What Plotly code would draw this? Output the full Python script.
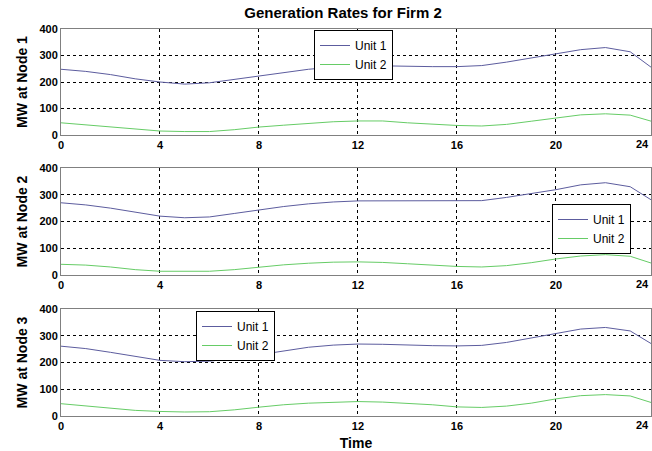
import plotly.graph_objects as go

hours = list(range(25))

node1_unit1 = [248, 240, 228, 212, 200, 192, 197, 210, 224, 237, 248, 256, 261,
               261, 259, 258, 258, 262, 275, 290, 305, 322, 330, 314, 245]
node1_unit2 = [46, 38, 30, 22, 15, 13, 13, 20, 30, 37, 44, 50, 53,
               53, 46, 40, 36, 34, 40, 52, 65, 76, 80, 75, 48]

node2_unit1 = [270, 262, 250, 235, 220, 214, 217, 230, 244, 256, 266, 273, 277,
               277, 276, 276, 276, 278, 290, 305, 319, 337, 345, 330, 272]
node2_unit2 = [40, 37, 30, 20, 14, 13, 14, 20, 30, 38, 44, 48, 49,
               47, 42, 36, 32, 30, 35, 46, 60, 71, 76, 70, 40]

node3_unit1 = [261, 252, 238, 222, 208, 203, 205, 215, 229, 245, 257, 265, 269,
               268, 265, 263, 262, 264, 275, 292, 308, 325, 331, 318, 262]
node3_unit2 = [46, 38, 28, 21, 17, 15, 16, 23, 33, 42, 48, 52, 54,
               52, 48, 42, 34, 32, 37, 48, 64, 76, 80, 75, 46]

x_ticks = [0, 4, 8, 12, 16, 20, 24]
y_ticks = [0, 100, 200, 300, 400]
series_names = ["Unit 1", "Unit 2"]
y_titles = ["MW at Node 1", "MW at Node 2", "MW at Node 3"]
title_text = "Generation Rates for Firm 2"
x_title = "Time"

data = [(node1_unit1, node1_unit2), (node2_unit1, node2_unit2), (node3_unit1, node3_unit2)]
colors = ["#5c5c9e", "#66cc66"]
FONT = "Liberation Sans, Arial, sans-serif"

# pixel layout helpers
W, H = 652, 451
ml, mr, mt, mb = 61, 1, 29, 35
ph = H - mt - mb
X_MAX = 23.84
def ydom(top_px, bot_px):
    return [(H - mb - bot_px) / ph, (H - mb - top_px) / ph]

domains = [ydom(29, 135), ydom(168, 275), ydom(309, 416)]
legend_pos = [((314 - ml) / (W - ml - mr), (H - mb - 30) / ph),
              ((552 - ml) / (W - ml - mr), (H - mb - 204) / ph),
              ((196 - ml) / (W - ml - mr), (H - mb - 311) / ph)]

fig = go.Figure()
layout = {}
annotations = []
for i, (u1, u2) in enumerate(data):
    n = i + 1
    xa = "x" if n == 1 else f"x{n}"
    ya = "y" if n == 1 else f"y{n}"
    lg = "legend" if n == 1 else f"legend{n}"
    for s, (vals, name) in enumerate(zip((u1, u2), series_names)):
        fig.add_trace(go.Scatter(x=hours, y=vals, mode="lines", name=name,
                                 line=dict(color=colors[s], width=1),
                                 xaxis=xa, yaxis=ya, legend=lg))
    axis_common = dict(showline=True, mirror=True, linecolor="#808080", linewidth=1,
                       showgrid=True, gridcolor="#000000", griddash="dot", gridwidth=1,
                       zeroline=False, ticks="",
                       tickfont=dict(family=FONT, size=11, color="black", weight="bold"))
    xkey = "xaxis" if n == 1 else f"xaxis{n}"
    ykey = "yaxis" if n == 1 else f"yaxis{n}"
    xdict = dict(axis_common, domain=[0, 1], range=[0, X_MAX], tickvals=x_ticks,
                 anchor=ya, ticklabelstandoff=0)
    if n == 3:
        xdict["title"] = dict(text=x_title, font=dict(family=FONT, size=14, color="black", weight="bold"),
                              standoff=6)
    layout[xkey] = xdict
    layout[ykey] = dict(axis_common, domain=domains[i], range=[0, 400], tickvals=y_ticks,
                        anchor=xa,
                        title=dict(text=y_titles[i], standoff=8,
                                   font=dict(family=FONT, size=14, color="black", weight="bold")))
    lx, ly = legend_pos[i]
    layout[lg] = dict(x=lx, y=ly, xanchor="left", yanchor="top", bgcolor="white",
                      bordercolor="black", borderwidth=1, tracegroupgap=0,
                      itemwidth=30,
                      font=dict(family=FONT, size=12, color="black"))
    # last tick label (24) at the right edge of the page
    annotations.append(dict(text=str(x_ticks[-1]), x=1, xref=f"{xa} domain",
                            y=0, yref=f"{ya} domain",
                            yanchor="top", xanchor="right", showarrow=False, yshift=-1,
                            font=dict(family=FONT, size=11, color="black", weight="bold")))

fig.update_layout(**layout)
fig.update_layout(
    width=W, height=H,
    margin=dict(l=ml, r=mr, t=mt, b=mb),
    paper_bgcolor="white", plot_bgcolor="white",
    title=dict(text=title_text, x=(343 / W), xanchor="center", y=1 - 13 / H, yanchor="middle",
               font=dict(family=FONT, size=15, color="black", weight="bold")),
    annotations=annotations,
)
fig.write_html("out.html")
